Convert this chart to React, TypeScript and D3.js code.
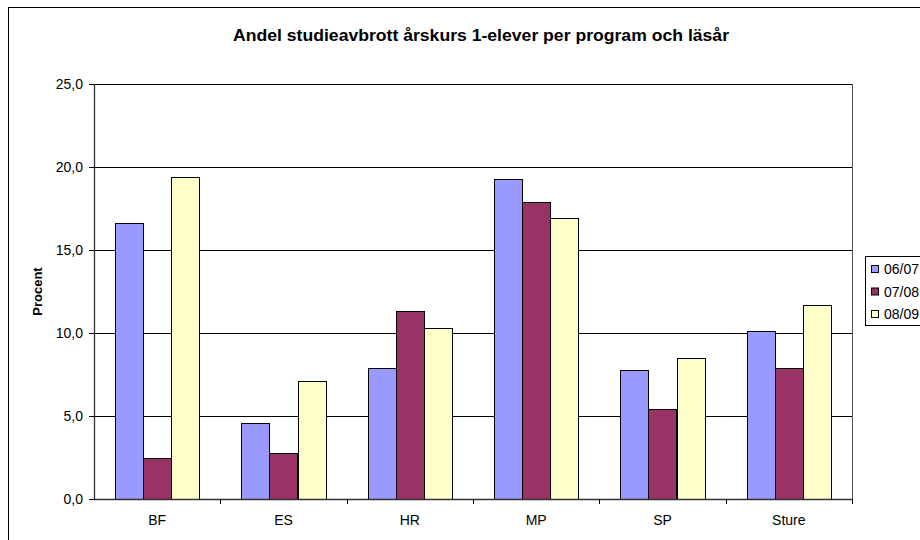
import React from "react";
import * as d3 from "d3";

const categories = ["BF", "ES", "HR", "MP", "SP", "Sture"];
const seriesNames = ["06/07", "07/08", "08/09"];
const s0607 = [16.6, 4.6, 7.9, 19.3, 7.8, 10.1];
const s0708 = [2.5, 2.8, 11.3, 17.9, 5.4, 7.9];
const s0809 = [19.4, 7.1, 10.3, 16.9, 8.5, 11.7];
const yTicks = [0, 5, 10, 15, 20, 25];
const colors = ["#9999FF", "#993366", "#FFFFCC"];
const title = "Andel studieavbrott årskurs 1-elever per program och läsår";
const yTitle = "Procent";

export default function App() {
  const W = 920, H = 540;
  const left = 94, right = 852, top = 84, bottom = 499;
  const series = [s0607, s0708, s0809];
  const x0 = d3.scaleBand<string>().domain(categories).range([left, right]).paddingInner(0).paddingOuter(0);
  const cw = x0.bandwidth();
  const gap = cw * 1.5 / 4.5 / 2;
  const x1 = d3.scaleBand<string>().domain(seriesNames).range([gap, cw - gap]).padding(0);
  const y = d3.scaleLinear().domain([0, 25]).range([bottom, top]);
  const fmt = (v: number) => v.toFixed(1).replace(".", ",");
  const font = "'Liberation Sans', Arial, sans-serif";

  return (
    <svg width={W} height={H} style={{ position: "absolute", left: 0, top: 0 }} fontFamily={font}>
      <rect x={0} y={0} width={W} height={H} fill="#fff" />
      <rect x={8.5} y={7.5} width={960} height={560} fill="#fff" stroke="#000" strokeWidth={1} />
      <text x={481} y={41} textAnchor="middle" fontSize={17} fontWeight="bold" textLength={496} lengthAdjust="spacingAndGlyphs">{title}</text>
      {yTicks.filter(t => t > 0).map(t => (
        <line key={"g" + t} x1={left} x2={right} y1={Math.round(y(t)) + 0.5} y2={Math.round(y(t)) + 0.5} stroke="#000" strokeWidth={1} />
      ))}
      {categories.map((c, i) => (
        <g key={c}>
          {series.map((s, j) => {
            const bx = (x0(c) as number) + (x1(seriesNames[j]) as number);
            return (
              <rect key={j} x={Math.round(bx) + 0.5} y={Math.round(y(s[i])) + 0.5}
                width={Math.round(x1.bandwidth())} height={Math.round(y(0)) - Math.round(y(s[i]))}
                fill={colors[j]} stroke="#000" strokeWidth={1} />
            );
          })}
        </g>
      ))}
      <line x1={right + 0.5} x2={right + 0.5} y1={top} y2={bottom} stroke="#555" />
      <line x1={left + 0.5} x2={left + 0.5} y1={top} y2={bottom + 0.5} stroke="#333" strokeWidth={1.3} />
      <line x1={left} x2={right + 1} y1={bottom + 0.5} y2={bottom + 0.5} stroke="#333" strokeWidth={1.3} />
      {yTicks.map(t => (
        <g key={"t" + t}>
          <line x1={left - 5} x2={left} y1={Math.round(y(t)) + 0.5} y2={Math.round(y(t)) + 0.5} stroke="#000" />
          <text x={83} y={y(t) + 5} textAnchor="end" fontSize={14}>{fmt(t)}</text>
        </g>
      ))}
      {categories.map((c, i) => (
        <g key={"x" + c}>
          <line x1={Math.round((x0(c) as number) + cw) + 0.5} x2={Math.round((x0(c) as number) + cw) + 0.5} y1={bottom} y2={bottom + 5} stroke="#000" />
          <text x={(x0(c) as number) + cw / 2} y={525} textAnchor="middle" fontSize={14}>{c}</text>
        </g>
      ))}
      <text transform={`translate(42,${(top + bottom) / 2}) rotate(-90)`} textAnchor="middle" fontSize={13} fontWeight="bold">{yTitle}</text>
      <rect x={865.5} y={256.5} width={80} height={69} fill="#fff" stroke="#000" />
      {seriesNames.map((n, j) => (
        <g key={n}>
          <rect x={871.5} y={265.5 + j * 22.5} width={7} height={7} fill={colors[j]} stroke="#000" />
          <text x={884} y={274 + j * 22.5} fontSize={14}>{n}</text>
        </g>
      ))}
    </svg>
  );
}
